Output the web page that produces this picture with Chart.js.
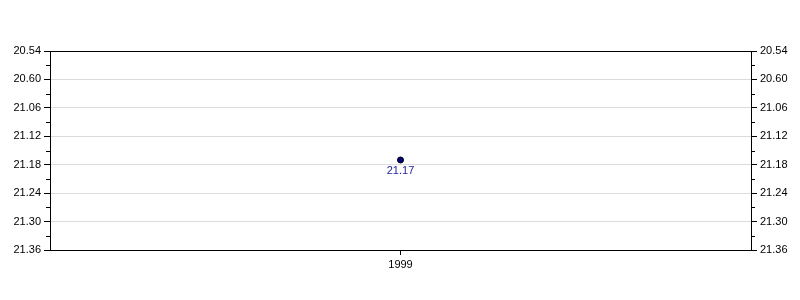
<!DOCTYPE html>
<html>
<head>
<meta charset="utf-8">
<script src="https://cdn.jsdelivr.net/npm/chart.js@4"></script>
<style>
html,body{margin:0;padding:0;background:#fff;}
#wrap{position:relative;width:800px;height:300px;}
</style>
</head>
<body>
<div id="wrap"><canvas id="c" width="800" height="300"></canvas></div>
<script>
// ---- data ----
const categories = ['1999'];
const seriesValues = [21.17];               // hh.mm
const tickLabels = ['20.54','20.60','21.06','21.12','21.18','21.24','21.30','21.36'];
const axisMinLabel = 20.54;
const axisMaxLabel = 21.36;

// hh.mm -> minutes
function toMinutes(v){
  const h = Math.floor(v + 1e-9);
  const m = Math.round((v - h) * 100);
  return h * 60 + m;
}
const yMin = toMinutes(axisMinLabel);
const yMax = toMinutes(axisMaxLabel);
const majorStep = (yMax - yMin) / (tickLabels.length - 1);

const FONT = {family: 'Arial, "Liberation Sans", sans-serif', size: 11};

function majorLabel(value){
  const idx = Math.round((value - yMin) / majorStep);
  return tickLabels[idx];
}

const minorTicks = {
  id: 'minorTicks',
  afterDraw(chart){
    const ctx = chart.ctx;
    ctx.save();
    ctx.strokeStyle = '#000';
    ctx.lineWidth = 1;
    ['y','y2'].forEach(id => {
      const s = chart.scales[id];
      for (let v = yMin + majorStep/2; v < yMax; v += majorStep){
        const py = Math.round(s.getPixelForValue(v)) + 0.5;
        ctx.beginPath();
        if (id === 'y'){ ctx.moveTo(s.right - 4, py); ctx.lineTo(s.right, py); }
        else { ctx.moveTo(s.left, py); ctx.lineTo(s.left + 4, py); }
        ctx.stroke();
      }
    });
    // value labels
    const meta = chart.getDatasetMeta(0);
    ctx.fillStyle = '#1c1c9c';
    ctx.font = '11px Arial, "Liberation Sans", sans-serif';
    ctx.textAlign = 'center';
    ctx.textBaseline = 'top';
    meta.data.forEach((pt, i) => {
      ctx.fillText(seriesValues[i].toFixed(2), pt.x, pt.y + 5);
    });
    ctx.restore();
  }
};

new Chart(document.getElementById('c'), {
  type: 'line',
  data: {
    labels: categories,
    datasets: [{
      data: seriesValues.map(toMinutes),
      yAxisID: 'y',
      showLine: false,
      pointRadius: 3,
      pointBackgroundColor: '#00007f',
      pointBorderColor: '#000',
      pointBorderWidth: 1
    }]
  },
  options: {
    responsive: false,
    animation: false,
    devicePixelRatio: 1,
    layout: {padding: {top: 51, left: 0, right: 0, bottom: 0}},
    plugins: {legend: {display: false}, tooltip: {enabled: false}},
    scales: {
      x: {
        type: 'category',
        offset: true,
        grid: {display: true, drawOnChartArea: false, tickLength: 5, color: '#000', offset: false},
        border: {display: true, color: '#000', width: 1},
        ticks: {color: '#000', font: FONT, padding: 3, maxRotation: 0},
        afterFit(s){ s.height = 50; }
      },
      y: {
        type: 'linear',
        position: 'left',
        reverse: true,
        min: yMin, max: yMax,
        grid: {
          tickLength: 6,
          color: ctx => (ctx.tick && (ctx.tick.value === yMin || ctx.tick.value === yMax)) ? '#000' : '#dcdcdc',
          tickColor: '#000'
        },
        border: {display: true, color: '#000', width: 1},
        ticks: {stepSize: majorStep, color: '#000', font: FONT, padding: 3, callback: v => majorLabel(v)},
        afterFit(s){ s.width = 50; }
      },
      y2: {
        type: 'linear',
        position: 'right',
        reverse: true,
        min: yMin, max: yMax,
        grid: {drawOnChartArea: false, tickLength: 6, tickColor: '#000'},
        border: {display: true, color: '#000', width: 1},
        ticks: {stepSize: majorStep, color: '#000', font: FONT, padding: 3, callback: v => majorLabel(v)},
        afterFit(s){ s.width = 49; }
      }
    }
  },
  plugins: [minorTicks]
});
</script>
</body>
</html>
